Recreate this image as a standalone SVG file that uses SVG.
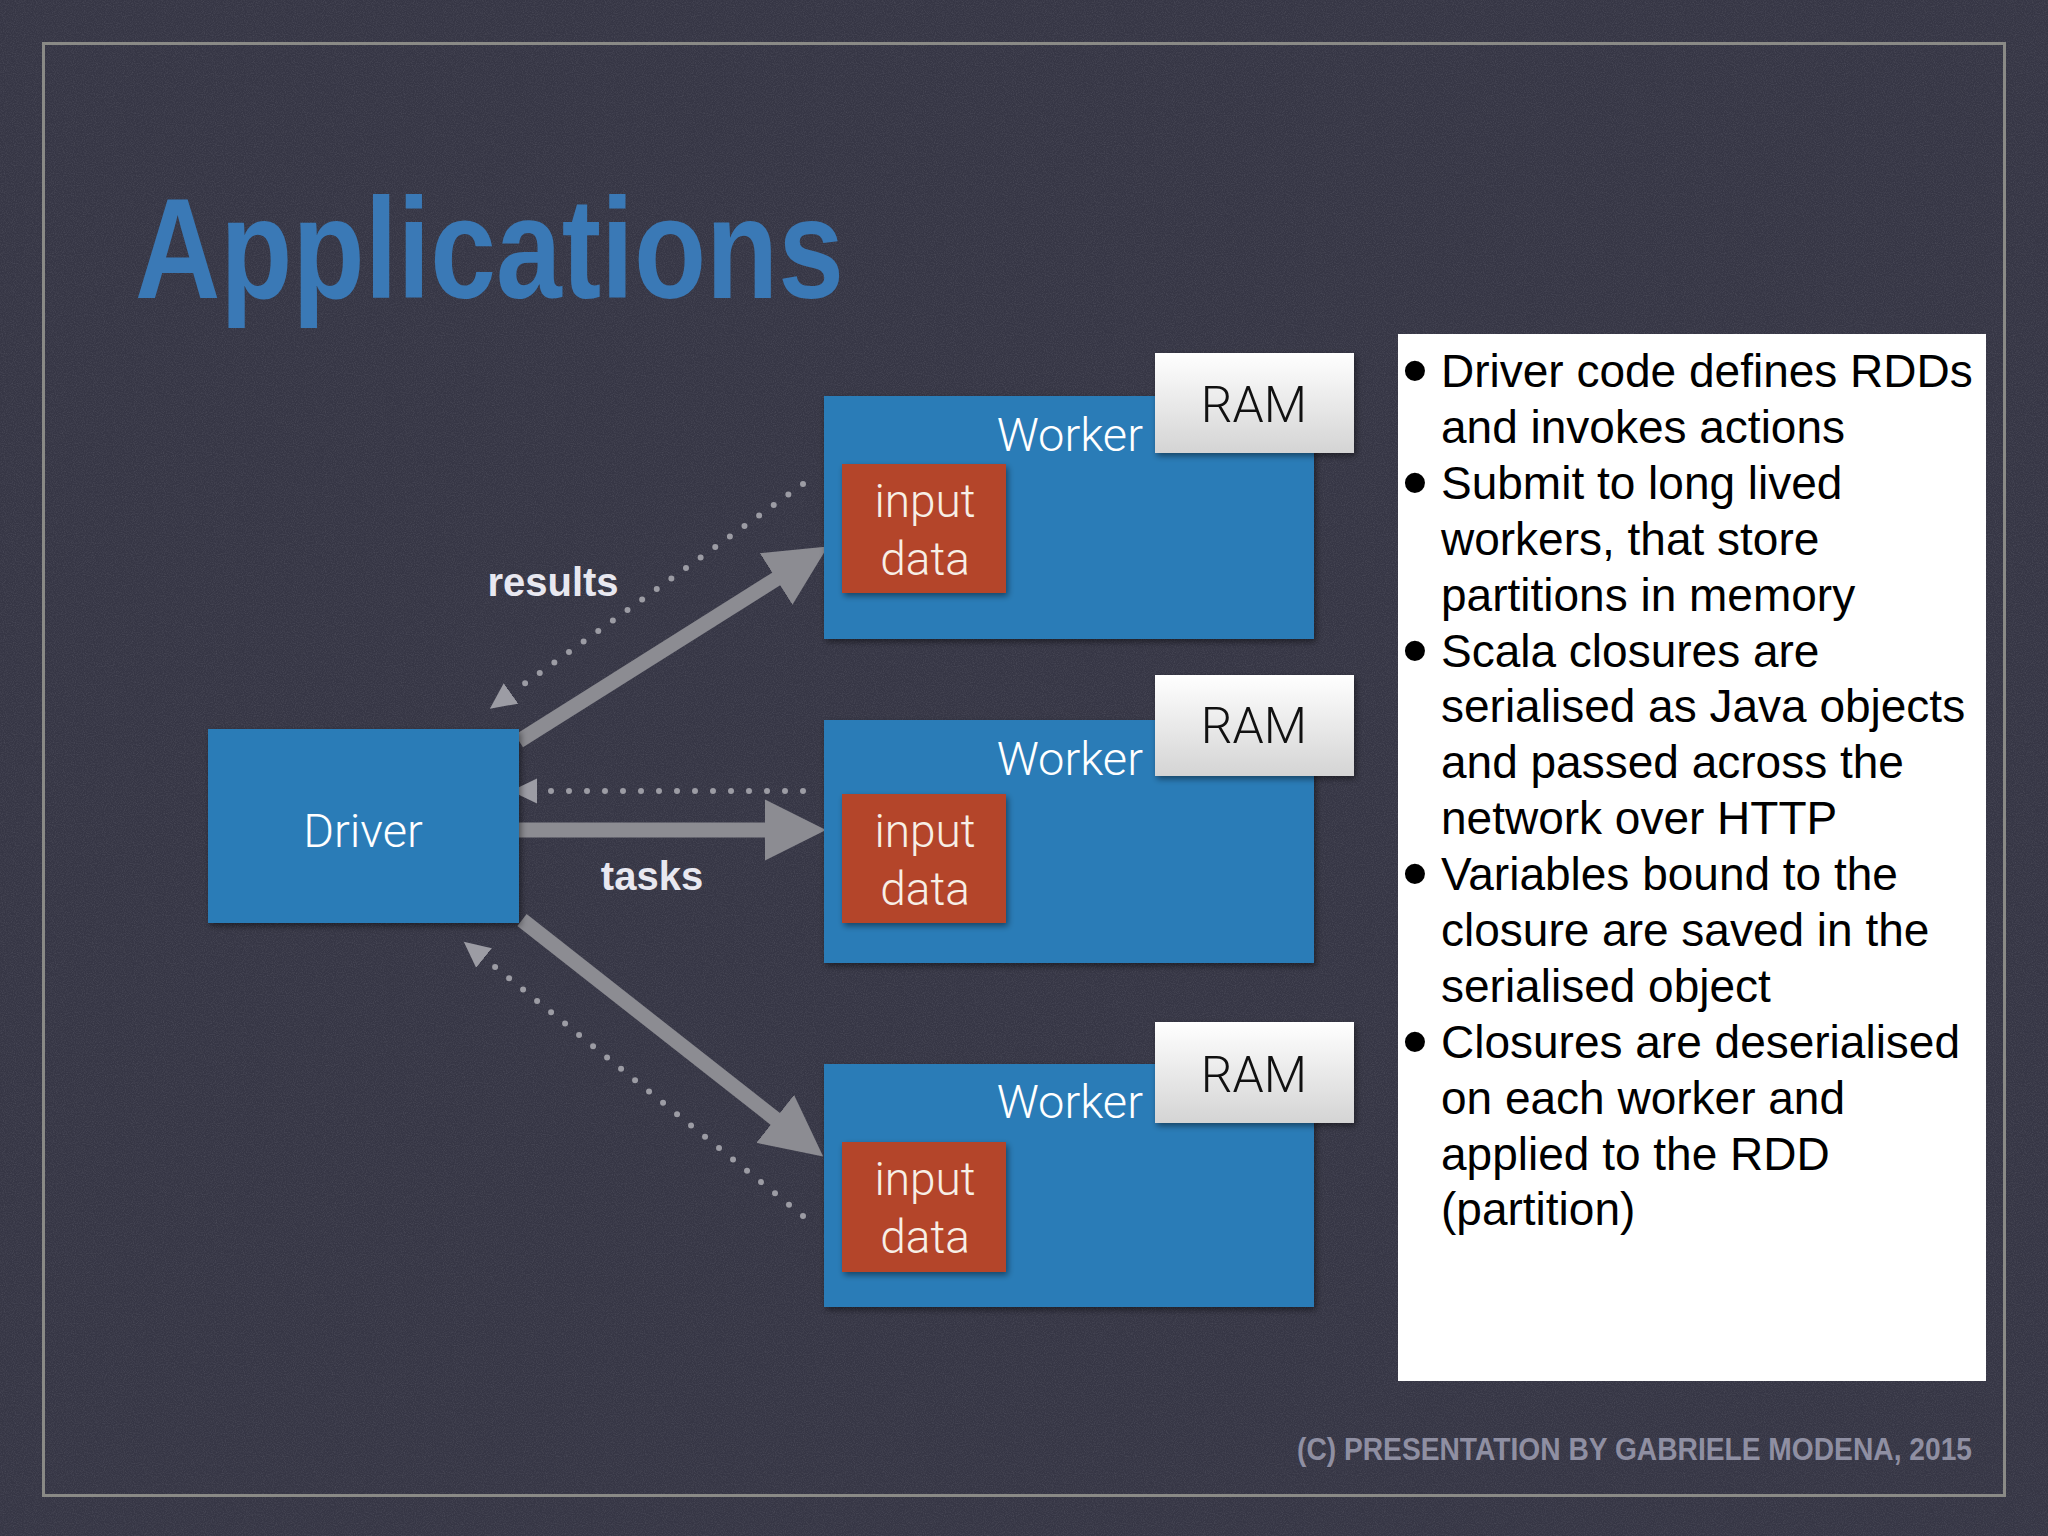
<svg xmlns="http://www.w3.org/2000/svg" width="2048" height="1536" viewBox="0 0 2048 1536">
  <style>
    .bg { fill: #363645; }
    .frame { fill: none; stroke: #8a8a86; stroke-width: 3; }
    .title { font-family: "Liberation Sans", Arial, sans-serif; font-weight: bold; font-size: 143px; fill: #3a79b6; }
    .footer { font-family: "Liberation Sans", Arial, sans-serif; font-weight: bold; font-size: 31px; fill: #8f8fa2; }
    .blue { fill: #2c7cb7; filter: url(#shadow); }
    .red { fill: #b4442c; filter: url(#shadow); }
    .ram { fill: url(#ramGrad); filter: url(#shadow); }
    .light { font-family: Roboto, "Liberation Sans", Arial, sans-serif; font-weight: 300; fill: #ffffff; }
    .node-label { font-size: 47px; }
    .data-label { font-size: 46px; fill: #f7efe6; }
    .ram-label { font-family: Roboto, "Liberation Sans", Arial, sans-serif; font-weight: 300; font-size: 50px; fill: #111111; }
    .edge-label { font-family: "Liberation Sans", Arial, sans-serif; font-weight: bold; font-size: 40px; fill: #e8e8f0; }
    .thick { fill: none; stroke: #8c8c92; stroke-width: 15; }
    .dotted { fill: none; stroke: #9c9ca4; stroke-width: 6; stroke-linecap: round; stroke-dasharray: 0 18; }
    .panel { fill: #ffffff; }
    .panel-text { font-family: "Liberation Sans", Arial, sans-serif; font-size: 46px; fill: #000000; }
    .bullet { font-size: 74px; }
  </style>
  <defs>
    <linearGradient id="ramGrad" x1="0" y1="0" x2="0" y2="1">
      <stop offset="0" stop-color="#ffffff"/>
      <stop offset="1" stop-color="#d4d4d4"/>
    </linearGradient>
    <filter id="shadow" x="-10%" y="-10%" width="125%" height="130%">
      <feDropShadow dx="2" dy="3" stdDeviation="3" flood-color="#000000" flood-opacity="0.45"/>
    </filter>
    <filter id="noise" x="0" y="0" width="100%" height="100%">
      <feTurbulence type="fractalNoise" baseFrequency="0.9" numOctaves="2" seed="3" result="n"/>
      <feColorMatrix type="matrix" values="0 0 0 0 0.75  0 0 0 0 0.75  0 0 0 0 0.8  0 0 0 0.9 -0.35"/>
    </filter>
    <marker id="headThick" viewBox="0 -31 62 62" refX="1" refY="0" markerWidth="62" markerHeight="62" markerUnits="userSpaceOnUse" orient="auto">
      <path d="M0,-30.5 L61,0 L0,30.5 Z" fill="#8c8c92"/>
    </marker>
    <marker id="headDot" viewBox="0 -13 27 26" refX="0" refY="0" markerWidth="27" markerHeight="26" markerUnits="userSpaceOnUse" orient="auto">
      <path d="M0,-12.5 L26,0 L0,12.5 Z" fill="#9c9ca4"/>
    </marker>
  </defs>

  <rect class="bg" x="0" y="0" width="2048" height="1536"/>
  <rect x="0" y="0" width="2048" height="1536" filter="url(#noise)" opacity="0.22"/>
  <rect class="frame" x="43.5" y="43.5" width="1961" height="1452"/>

  <text class="title" x="135" y="298" textLength="709" lengthAdjust="spacingAndGlyphs">Applications</text>

  <g id="connectors">
    <line class="thick" x1="519" y1="741" x2="777" y2="578.5" marker-end="url(#headThick)"/>
    <line class="thick" x1="519" y1="830" x2="766" y2="830" marker-end="url(#headThick)"/>
    <line class="thick" x1="522" y1="920" x2="776" y2="1119.5" marker-end="url(#headThick)"/>
    <line class="dotted" x1="803" y1="484" x2="511" y2="693.5" marker-end="url(#headDot)"/>
    <line class="dotted" x1="803" y1="791" x2="537" y2="791" marker-end="url(#headDot)"/>
    <line class="dotted" x1="803" y1="1216" x2="484" y2="958" marker-end="url(#headDot)"/>
    <text class="edge-label" x="553" y="596" text-anchor="middle">results</text>
    <text class="edge-label" x="652" y="890" text-anchor="middle">tasks</text>
  </g>

  <g id="driver">
    <rect class="blue" x="208" y="729" width="311" height="194"/>
    <text class="light node-label" x="363" y="847" text-anchor="middle">Driver</text>
  </g>

  <g id="worker1">
    <rect class="blue" x="824" y="396" width="490" height="243"/>
    <text class="light node-label" x="1143" y="451" text-anchor="end">Worker</text>
    <g id="ram1">
      <rect class="ram" x="1155" y="353" width="199" height="100"/>
      <text class="ram-label" x="1254" y="422" text-anchor="middle">RAM</text>
    </g>
    <g id="input1">
      <rect class="red" x="842" y="464" width="164" height="129"/>
      <text class="light data-label" x="925" y="517" text-anchor="middle">input</text>
      <text class="light data-label" x="925" y="575" text-anchor="middle">data</text>
    </g>
  </g>

  <g id="worker2">
    <rect class="blue" x="824" y="720" width="490" height="243"/>
    <text class="light node-label" x="1143" y="775" text-anchor="end">Worker</text>
    <g id="ram2">
      <rect class="ram" x="1155" y="675" width="199" height="101"/>
      <text class="ram-label" x="1254" y="743" text-anchor="middle">RAM</text>
    </g>
    <g id="input2">
      <rect class="red" x="842" y="794" width="164" height="129"/>
      <text class="light data-label" x="925" y="847" text-anchor="middle">input</text>
      <text class="light data-label" x="925" y="905" text-anchor="middle">data</text>
    </g>
  </g>

  <g id="worker3">
    <rect class="blue" x="824" y="1064" width="490" height="243"/>
    <text class="light node-label" x="1143" y="1118" text-anchor="end">Worker</text>
    <g id="ram3">
      <rect class="ram" x="1155" y="1022" width="199" height="101"/>
      <text class="ram-label" x="1254" y="1092" text-anchor="middle">RAM</text>
    </g>
    <g id="input3">
      <rect class="red" x="842" y="1142" width="164" height="130"/>
      <text class="light data-label" x="925" y="1195" text-anchor="middle">input</text>
      <text class="light data-label" x="925" y="1253" text-anchor="middle">data</text>
    </g>
  </g>

  <g id="notes">
    <rect class="panel" x="1398" y="334" width="588" height="1047"/>
    <g class="panel-text">
      <text class="bullet" x="1402" y="396">•</text>
      <text class="bullet" x="1402" y="508">•</text>
      <text class="bullet" x="1402" y="676">•</text>
      <text class="bullet" x="1402" y="899">•</text>
      <text class="bullet" x="1402" y="1067">•</text>
      <text x="1441" y="387">Driver code defines RDDs</text>
      <text x="1441" y="443">and invokes actions</text>
      <text x="1441" y="499">Submit to long lived</text>
      <text x="1441" y="555">workers, that store</text>
      <text x="1441" y="611">partitions in memory</text>
      <text x="1441" y="667">Scala closures are</text>
      <text x="1441" y="722">serialised as Java objects</text>
      <text x="1441" y="778">and passed across the</text>
      <text x="1441" y="834">network over HTTP</text>
      <text x="1441" y="890">Variables bound to the</text>
      <text x="1441" y="946">closure are saved in the</text>
      <text x="1441" y="1002">serialised object</text>
      <text x="1441" y="1058">Closures are deserialised</text>
      <text x="1441" y="1114">on each worker and</text>
      <text x="1441" y="1170">applied to the RDD</text>
      <text x="1441" y="1225">(partition)</text>
    </g>
  </g>

  <text class="footer" x="1297" y="1460" textLength="675" lengthAdjust="spacingAndGlyphs">(C) PRESENTATION BY GABRIELE MODENA, 2015</text>
</svg>
